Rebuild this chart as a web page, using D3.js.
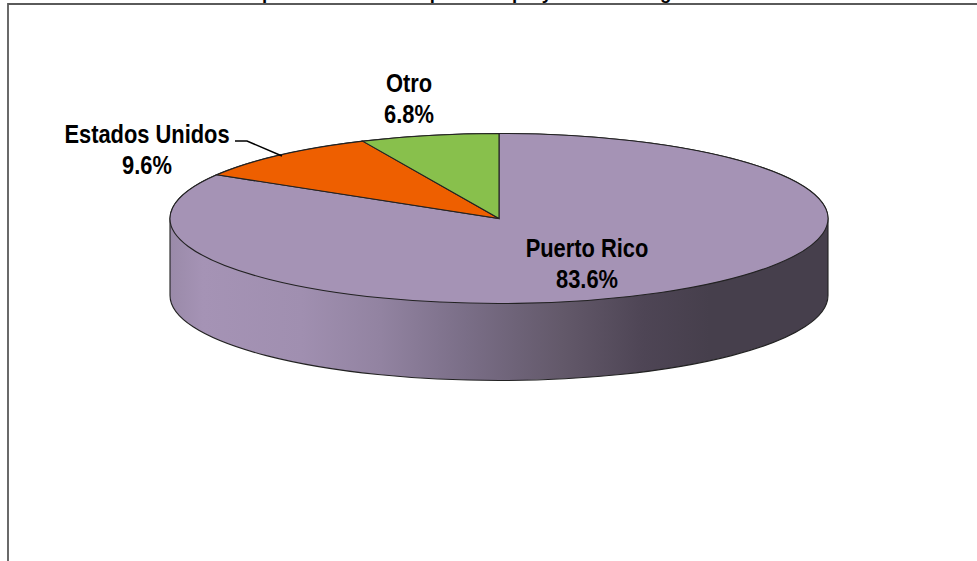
<!DOCTYPE html>
<html>
    <head>
        <meta charset="utf-8">
        <title>Compras por origen</title>
        <style>
            html {font-family: "Liberation Sans", Arial, sans-serif;}
            body {margin: 0;padding: 0;overflow: hidden;background: #fff;}
            svg {display: block;}
            text {font-weight: bold;fill: #000;}
        </style>
    </head>
    <body>
        <div id="chart"></div>
        <script src="https://cdn.jsdelivr.net/npm/d3@7"></script>
        <script type="text/javascript">
            var categories = ["Puerto Rico", "Estados Unidos", "Otro"];
            var values = [83.6, 9.6, 6.8];
            var sliceColors = ["#a593b5", "#ee5f00", "#88c04c"];
            var titleText = "Compras de materiales por cada proyecto de la región";

            var width = 977, height = 561;
            var cx = 499, cy = 218.5, rx = 329, ry = 85, depth = 77;

            var svg = d3.select("#chart").append("svg")
                    .attr("width", width)
                    .attr("height", height);

            // frame, top and left sides only are in the picture
            svg.append("path")
                .attr("d", "M8,561V4H977")
                .attr("fill", "none")
                .attr("stroke", "#5a5a5a")
                .attr("stroke-width", 1.8);

            // only the descenders of the title show
            svg.append("text")
                .attr("x", 221)
                .attr("y", -1)
                .style("font-size", "18.5px")
                .text(titleText);

            // side shading
            var grad = svg.append("defs").append("linearGradient")
                .attr("id", "side")
                .attr("x1", 0).attr("x2", 1).attr("y1", 0).attr("y2", 0);
            [[0, "#9a8aa9"], [0.05, "#a593b5"], [0.2, "#a08fb0"], [0.32, "#9283a1"],
             [0.45, "#7a6e87"], [0.6, "#625869"], [0.72, "#4e4555"], [0.82, "#463f4c"], [1, "#463f4c"]]
                .forEach(function(s) {
                    grad.append("stop").attr("offset", s[0]).attr("stop-color", s[1]);
                });

            var sidePath = "M" + (cx - rx) + "," + cy
                + "V" + (cy + depth)
                + "A" + rx + "," + ry + " 0 0 0 " + (cx + rx) + "," + (cy + depth)
                + "V" + cy
                + "A" + rx + "," + ry + " 0 0 0 " + (cx - rx) + "," + cy + "Z";

            svg.append("path")
                .attr("d", sidePath)
                .attr("fill", "url(#side)")
                .attr("stroke", "#222")
                .attr("stroke-width", 1.1);

            // top face: plain d3 pie flattened with a y scale
            var pie = d3.pie().sort(null).value(function(d) {return d;});
            var arc = d3.arc().innerRadius(0).outerRadius(rx);

            svg.append("g")
                .attr("transform", "translate(" + cx + "," + cy + ") scale(1," + (ry / rx) + ")")
                .selectAll("path")
                .data(pie(values))
                .enter().append("path")
                .attr("d", arc)
                .attr("fill", function(d, i) {return sliceColors[i];})
                .attr("stroke", "#222")
                .attr("stroke-width", 1.1)
                .attr("vector-effect", "non-scaling-stroke");

            // leader for Estados Unidos
            svg.append("path")
                .attr("d", "M235,141H247L282,156")
                .attr("fill", "none")
                .attr("stroke", "#000")
                .attr("stroke-width", 1.5);

            // labels, squeezed a little like the original
            var labelSpots = [[587, 257], [147, 143], [409, 92]];
            var lineGap = 31;
            categories.forEach(function(name, i) {
                var g = svg.append("g")
                    .attr("transform", "translate(" + labelSpots[i][0] + "," + labelSpots[i][1] + ") scale(0.875,1)")
                    .style("font-size", "25px")
                    .attr("text-anchor", "middle");
                g.append("text").text(name);
                g.append("text").attr("y", lineGap).text(values[i].toFixed(1) + "%");
            });
        </script>
    </body>
</html>
